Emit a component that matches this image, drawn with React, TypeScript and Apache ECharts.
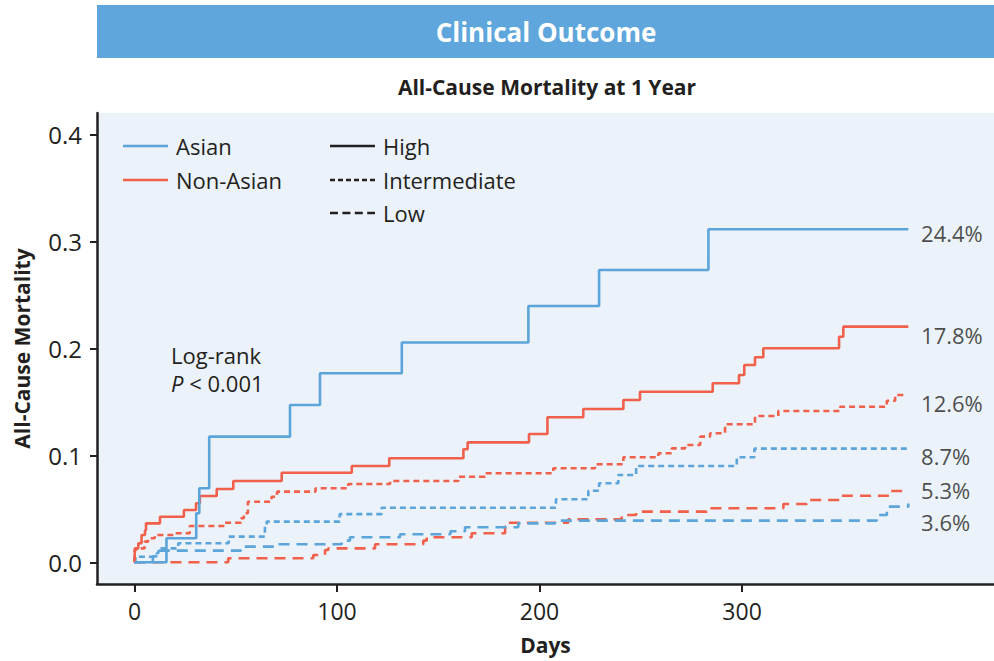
import React, { useEffect, useRef } from "react";
import * as echarts from "echarts";

// ---- Data ----
const xTicks = [0, 100, 200, 300];
const yTicks = [0, 0.1, 0.2, 0.3, 0.4];

const asianHighDays = [0, 15.8, 30.5, 32, 36.9, 76.8, 91.6, 132, 194.5, 229.4, 283.4, 382.1];
const asianHighMort = [0, 0.0224, 0.0458, 0.0692, 0.1174, 0.147, 0.1766, 0.2054, 0.2395, 0.2732, 0.3112, 0.3112];

const nonAsianHighDays = [0, 0.2, 1.9, 3.5, 5.2, 5.7, 12.6, 24.4, 30.4, 32.3, 40.6, 48.8, 72.7, 107.3, 125.8, 162.4, 164.5, 194.8, 203.9, 221.6, 241.4, 249.6, 285.5, 298.5, 301.1, 306.4, 310.5, 347.9, 350, 382.1];
const nonAsianHighMort = [0, 0.013, 0.0178, 0.0255, 0.03, 0.0364, 0.0426, 0.0489, 0.0551, 0.062, 0.0685, 0.076, 0.0837, 0.09, 0.0972, 0.1056, 0.1121, 0.1199, 0.1355, 0.1433, 0.1517, 0.1594, 0.1673, 0.175, 0.1844, 0.1916, 0.2, 0.2108, 0.2202, 0.2202];

const nonAsianIntDays = [0, 0.1, 0.9, 5, 6.7, 10, 19.9, 27.3, 44.5, 52.6, 54, 56, 67.7, 70.4, 89.4, 105.6, 126.2, 159.9, 173.1, 206.8, 227.4, 241.4, 258.7, 265.3, 271.9, 279.3, 284.2, 291.6, 306.4, 317.9, 348.4, 371.5, 375.6, 380.8];
const nonAsianIntMort = [0, 0.0115, 0.013, 0.0193, 0.0224, 0.0255, 0.0271, 0.0339, 0.037, 0.0411, 0.0458, 0.0566, 0.0613, 0.066, 0.0692, 0.0732, 0.076, 0.08, 0.0832, 0.0879, 0.0916, 0.0981, 0.1019, 0.1065, 0.1096, 0.1174, 0.1206, 0.129, 0.1367, 0.1414, 0.1454, 0.151, 0.1564, 0.1564];

const asianIntDays = [0, 0.5, 11, 11.8, 21.6, 46.5, 64.4, 65.3, 101.3, 122, 208.1, 224.1, 229.4, 238.9, 247.7, 297.4, 306.1, 382.1];
const asianIntMort = [0, 0.0052, 0.0084, 0.013, 0.0178, 0.024, 0.0333, 0.038, 0.045, 0.051, 0.0589, 0.0669, 0.0738, 0.0816, 0.09, 0.0981, 0.1062, 0.1062];

const nonAsianLowDays = [0, 46.3, 88.3, 94.1, 95.7, 118.8, 142.6, 144.3, 166.5, 183, 184.6, 214.2, 240.6, 247.7, 282.6, 320.4, 332, 349.2, 373.1, 382.1];
const nonAsianLowMort = [0, 0.0037, 0.0068, 0.0115, 0.013, 0.0168, 0.0202, 0.0234, 0.0271, 0.0333, 0.037, 0.0402, 0.0442, 0.0473, 0.0505, 0.0545, 0.0582, 0.0622, 0.0666, 0.0666];

const asianLowDays = [0, 9.1, 11.6, 52.6, 70.2, 102.3, 106.4, 131.1, 156, 163.2, 189.5, 207.7, 366.5, 371.5, 382.1];
const asianLowMort = [0, 0.0056, 0.0109, 0.0146, 0.0168, 0.0202, 0.0234, 0.0262, 0.029, 0.0327, 0.0364, 0.0389, 0.0442, 0.052, 0.055];

const endLabelTexts = ["24.4%", "17.8%", "12.6%", "8.7%", "5.3%", "3.6%"];
const endLabelValues = [0.3078, 0.2124, 0.1492, 0.0993, 0.0676, 0.0377];
const endLabelDay = 388.4;

// ---- Styles ----
const BLUE = "#5ba5da";
const RED = "#f0604b";
const INK = "#231f20";
const FONT = "'Open Sans', 'Noto Sans', sans-serif";

const pairs = (d: number[], m: number[]) => d.map((x, i) => [x, m[i]]);

const lineSeries = (name: string, days: number[], mort: number[], color: string, type: any, z: number) => ({
  name,
  type: "line",
  step: "end",
  data: pairs(days, mort),
  showSymbol: false,
  symbol: "none",
  silent: true,
  z,
  lineStyle: { color, width: 2.6, type },
});

export default function App() {
  const ref = useRef<HTMLDivElement>(null);
  useEffect(() => {
    document.body.style.margin = "0";
    const chart = echarts.init(ref.current as HTMLDivElement, null, { renderer: "svg" });
    const option: any = {
      animation: false,
      textStyle: { fontFamily: FONT },
      grid: {
        left: 97,
        top: 113,
        width: 897,
        height: 471,
        show: true,
        backgroundColor: "#ebf2fa",
        borderWidth: 0,
      },
      xAxis: {
        type: "value",
        min: -18.5,
        max: 424.4,
        name: "Days",
        nameLocation: "middle",
        nameGap: 50,
        nameTextStyle: { fontFamily: FONT, fontSize: 21, fontWeight: "bold", color: INK },
        axisLine: { show: true, onZero: false, lineStyle: { color: INK, width: 2.5 } },
        axisTick: { show: true, customValues: xTicks, length: 8, lineStyle: { color: INK, width: 2 } },
        axisLabel: { customValues: xTicks, fontFamily: FONT, fontSize: 23, color: INK, margin: 15 },
        splitLine: { show: false },
      },
      yAxis: {
        type: "value",
        min: -0.0203,
        max: 0.4199,
        name: "All-Cause Mortality",
        nameLocation: "middle",
        nameGap: 65,
        nameTextStyle: { fontFamily: FONT, fontSize: 21, fontWeight: "bold", color: INK },
        axisLine: { show: true, onZero: false, lineStyle: { color: INK, width: 2.5 } },
        axisTick: { show: true, customValues: yTicks, length: 7, lineStyle: { color: INK, width: 2 } },
        axisLabel: {
          customValues: yTicks,
          fontFamily: FONT,
          fontSize: 24,
          color: INK,
          margin: 15,
          formatter: (v: number) => v.toFixed(1),
        },
        splitLine: { show: false },
      },
      series: [
        lineSeries("Non-Asian Low", nonAsianLowDays, nonAsianLowMort, RED, [11, 7], 2),
        lineSeries("Asian Low", asianLowDays, asianLowMort, BLUE, [11, 7], 2),
        lineSeries("Asian Intermediate", asianIntDays, asianIntMort, BLUE, [6, 4], 3),
        lineSeries("Non-Asian Intermediate", nonAsianIntDays, nonAsianIntMort, RED, [6, 4], 3),
        lineSeries("Non-Asian High", nonAsianHighDays, nonAsianHighMort, RED, "solid", 4),
        lineSeries("Asian High", asianHighDays, asianHighMort, BLUE, "solid", 5),
        {
          type: "scatter",
          silent: true,
          symbolSize: 0,
          data: endLabelValues.map((v) => [endLabelDay, v]),
          label: {
            show: true,
            position: "right",
            distance: 0,
            fontFamily: FONT,
            fontSize: 22,
            lineHeight: 22,
            color: INK,
            formatter: (p: any) => endLabelTexts[p.dataIndex],
          },
        },
      ],
      graphic: [
        { type: "rect", shape: { x: 97, y: 5, width: 897, height: 53 }, style: { fill: "#5ea6db" }, silent: true },
        {
          type: "text",
          x: 546,
          y: 32,
          style: { text: "Clinical Outcome", fill: "#ffffff", font: `bold 26px ${FONT}`, align: "center", verticalAlign: "middle" },
        },
        {
          type: "text",
          x: 547,
          y: 87,
          style: { text: "All-Cause Mortality at 1 Year", fill: INK, font: `bold 21px ${FONT}`, align: "center", verticalAlign: "middle" },
        },
        // legend: colours
        { type: "line", shape: { x1: 123, y1: 146, x2: 168, y2: 146 }, style: { stroke: BLUE, lineWidth: 2.6 } },
        { type: "text", x: 176, y: 146, style: { text: "Asian", fill: INK, font: `22px ${FONT}`, verticalAlign: "middle" } },
        { type: "line", shape: { x1: 123, y1: 180, x2: 168, y2: 180 }, style: { stroke: RED, lineWidth: 2.6 } },
        { type: "text", x: 176, y: 180, style: { text: "Non-Asian", fill: INK, font: `22px ${FONT}`, verticalAlign: "middle" } },
        // legend: line styles
        { type: "line", shape: { x1: 330, y1: 146, x2: 375, y2: 146 }, style: { stroke: INK, lineWidth: 2.4 } },
        { type: "text", x: 383, y: 146, style: { text: "High", fill: INK, font: `22px ${FONT}`, verticalAlign: "middle" } },
        { type: "line", shape: { x1: 330, y1: 180, x2: 375, y2: 180 }, style: { stroke: INK, lineWidth: 2.4, lineDash: [5, 3] } },
        { type: "text", x: 383, y: 180, style: { text: "Intermediate", fill: INK, font: `22px ${FONT}`, verticalAlign: "middle" } },
        { type: "line", shape: { x1: 330, y1: 213, x2: 375, y2: 213 }, style: { stroke: INK, lineWidth: 2.4, lineDash: [8, 4.4] } },
        { type: "text", x: 383, y: 213, style: { text: "Low", fill: INK, font: `22px ${FONT}`, verticalAlign: "middle" } },
        // log-rank annotation
        { type: "text", x: 171, y: 355, style: { text: "Log-rank", fill: INK, font: `22px ${FONT}`, verticalAlign: "middle" } },
        {
          type: "text",
          x: 171,
          y: 383,
          style: {
            text: "{i|P} < 0.001",
            fill: INK,
            font: `22px ${FONT}`,
            verticalAlign: "middle",
            rich: { i: { fontStyle: "italic", fontFamily: FONT, fontSize: 22, fill: INK } },
          },
        },
      ],
    };
    chart.setOption(option);
    return () => chart.dispose();
  }, []);
  return <div ref={ref} style={{ width: 994, height: 661 }} />;
}
